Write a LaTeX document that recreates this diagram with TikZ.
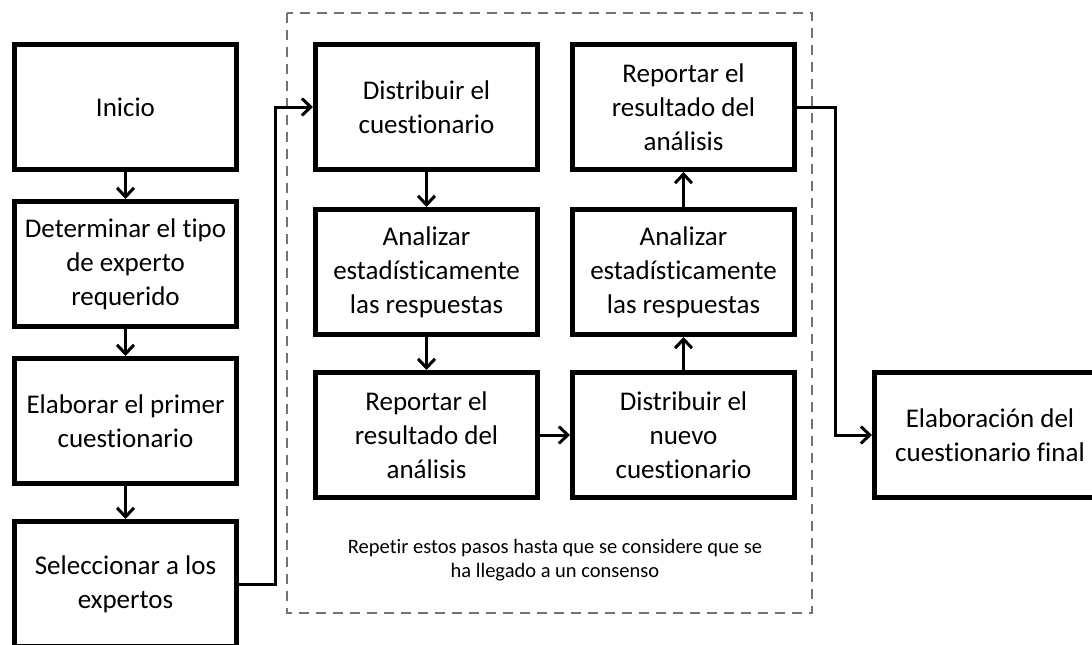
\documentclass[tikz,border=0pt]{standalone}
\usepackage{fontspec}
\setmainfont{Carlito}[Ligatures={NoCommon}]
\usepackage{tikz}
\usetikzlibrary{arrows.meta,positioning}

\begin{document}
\begin{tikzpicture}[
    x=1pt, y=1pt,
    node distance=33pt,
    box/.style={rectangle, draw, line width=5pt, text centered, minimum width=222pt, minimum height=125pt, align=center, font=\fontsize{27}{34}\selectfont},
    arrow/.style={-{Straight Barb[length=9pt,width=17pt]}, line width=3pt},
    loopbox/.style={draw=black!55, dash pattern=on 10pt off 7pt, line width=2pt},
    note/.style={align=center, font=\fontsize{20.5}{24}\selectfont}
]
    \clip (0,0) rectangle (1092,-645);

    % left column
    \node[box] (inicio) at (125.5,-107) {Inicio};
    \node[box, below=27pt of inicio] (tipo) {Determinar el tipo\\de experto\\requerido};
    \node[box, below=27pt of tipo] (primer) {Elaborar el primer\\cuestionario};
    \node[box, below=33pt of primer] (expertos) {Seleccionar a los\\expertos};

    % repeated steps
    \node[box] (dist) at (426.5,-107) {Distribuir el\\cuestionario};
    \node[box, below=35pt of dist] (anal) {Analizar\\estadísticamente\\las respuestas};
    \node[box, below=33pt of anal] (rep) {Reportar el\\resultado del\\análisis};
    \node[box, right=30pt of rep] (nuevo) {Distribuir el\\nuevo\\cuestionario};
    \node[box, right=30pt of anal] (analdos) {Analizar\\estadísticamente\\las respuestas};
    \node[box, right=30pt of dist] (repdos) {Reportar el\\resultado del\\análisis};
    \node[box, minimum width=231pt, right=75pt of nuevo] (final) {Elaboración del\\cuestionario final};

    \draw[loopbox] (287,-13) rectangle (812,-613);
    \node[note] (repetir) at (555,-560) {Repetir estos pasos hasta que se considere que se\\ha llegado a un consenso};

    \draw[arrow] (inicio) -- (tipo);
    \draw[arrow] (tipo) -- (primer);
    \draw[arrow] (primer) -- (expertos);
    \draw[arrow] (expertos.east) -- ++(36,0) |- (dist.west);
    \draw[arrow] (dist) -- (anal);
    \draw[arrow] (anal) -- (rep);
    \draw[arrow] (rep) -- (nuevo);
    \draw[arrow] (nuevo) -- (analdos);
    \draw[arrow] (analdos) -- (repdos);
    \draw[arrow] (repdos.east) -- ++(38,0) |- (final.west);
\end{tikzpicture}
\end{document}
